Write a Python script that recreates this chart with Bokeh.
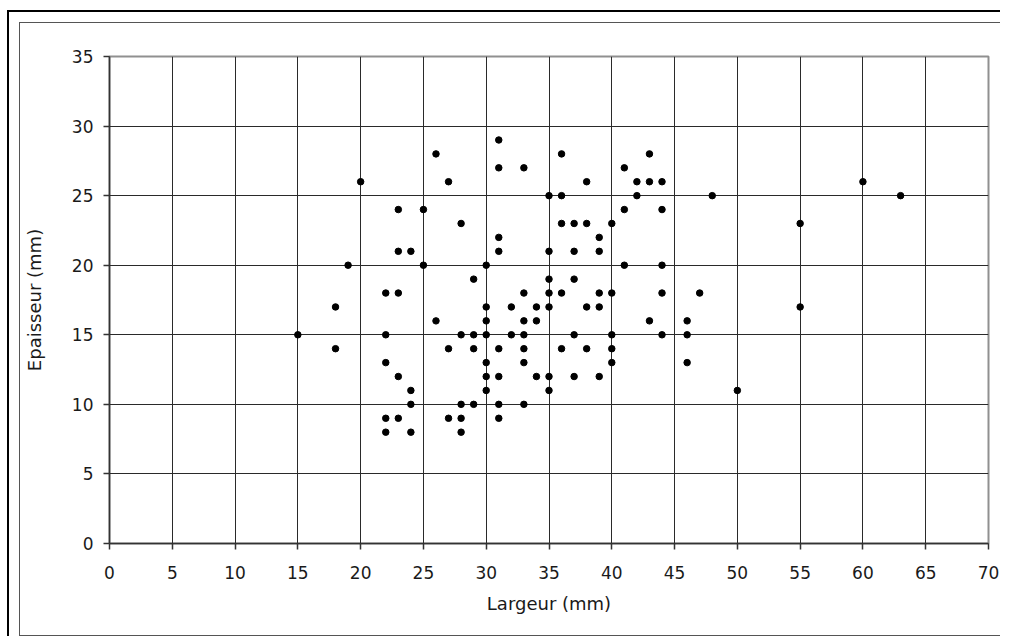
from bokeh.plotting import figure
from bokeh.models import Range1d, SingleIntervalTicker
from bokeh.layouts import column
from bokeh.embed import file_html
from bokeh.resources import INLINE

# Data: Largeur (mm) vs Epaisseur (mm)
largeur = [15, 18, 18, 19, 20,
           22, 22, 22, 22, 22,
           23, 23, 23, 23, 23,
           24, 24, 24, 24,
           25, 25, 26, 26,
           27, 27, 27,
           28, 28, 28, 28, 28,
           29, 29, 29, 29,
           30, 30, 30, 30, 30, 30, 30,
           31, 31, 31, 31, 31, 31, 31, 31,
           32, 32,
           33, 33, 33, 33, 33, 33, 33,
           34, 34, 34,
           35, 35, 35, 35, 35, 35, 35,
           36, 36, 36, 36, 36,
           37, 37, 37, 37, 37,
           38, 38, 38, 38,
           39, 39, 39, 39, 39,
           40, 40, 40, 40, 40,
           41, 41, 41,
           42, 42,
           43, 43, 43,
           44, 44, 44, 44, 44,
           46, 46, 46,
           47, 48, 50, 55, 55, 60, 63]
epaisseur = [15, 17, 14, 20, 26,
             18, 15, 13, 9, 8,
             24, 21, 18, 12, 9,
             21, 11, 10, 8,
             24, 20, 28, 16,
             26, 14, 9,
             23, 15, 10, 9, 8,
             19, 15, 14, 10,
             20, 17, 16, 15, 13, 12, 11,
             29, 27, 22, 21, 14, 12, 10, 9,
             17, 15,
             27, 18, 16, 15, 14, 13, 10,
             17, 16, 12,
             25, 21, 19, 18, 17, 12, 11,
             28, 25, 23, 18, 14,
             23, 21, 19, 15, 12,
             26, 23, 17, 14,
             22, 21, 18, 17, 12,
             23, 18, 15, 14, 13,
             27, 24, 20,
             26, 25,
             28, 26, 16,
             26, 24, 20, 18, 15,
             16, 15, 13,
             18, 25, 11, 23, 17, 26, 25]

x_title = "Largeur (mm)"
y_title = "Epaisseur (mm)"

FONT = "DejaVu Sans"

p = figure(output_backend="svg", toolbar_location=None,
           frame_width=879, frame_height=487,
           min_border_left=89, min_border_right=12,
           min_border_top=33, min_border_bottom=92,
           x_range=Range1d(0, 70), y_range=Range1d(0, 35),
           background_fill_color="white", border_fill_color="white")

p.scatter(largeur, epaisseur, size=6.5, color="black", marker="circle")

p.outline_line_color = "#909090"
p.outline_line_width = 2

for ax in (p.xaxis, p.yaxis):
    ax.ticker = SingleIntervalTicker(interval=5, num_minor_ticks=0)
    ax.axis_line_color = "#333333"
    ax.axis_line_width = 1.5
    ax.major_tick_line_color = "#333333"
    ax.major_tick_line_width = 1.5
    ax.major_tick_in = 0
    ax.major_tick_out = 6
    ax.minor_tick_line_color = None
    ax.major_label_text_font = FONT
    ax.major_label_text_font_size = "17px"
    ax.major_label_text_color = "#1a1a1a"
    ax.axis_label_text_font = FONT
    ax.axis_label_text_font_size = "18px"
    ax.axis_label_text_font_style = "normal"
    ax.axis_label_text_color = "#1a1a1a"

p.xaxis.axis_label = x_title
p.yaxis.axis_label = y_title
p.xaxis.major_label_standoff = 16
p.yaxis.major_label_standoff = 10
p.xaxis.axis_label_standoff = 11
p.yaxis.axis_label_standoff = 24

p.xgrid.ticker = SingleIntervalTicker(interval=5)
p.ygrid.ticker = SingleIntervalTicker(interval=5)
p.grid.grid_line_color = "#2a2a2a"
p.grid.grid_line_width = 1

inner = column(p, styles={"border-left": "1px solid #555555",
                          "border-top": "1px solid #555555",
                          "border-bottom": "1px solid #555555"})
outer = column(inner, styles={"border-left": "2px solid black",
                              "border-top": "2px solid black",
                              "margin-left": "7px",
                              "margin-top": "10px",
                              "padding-left": "10px",
                              "padding-top": "10px"})

open("out.html", "w").write(file_html(outer, INLINE))
